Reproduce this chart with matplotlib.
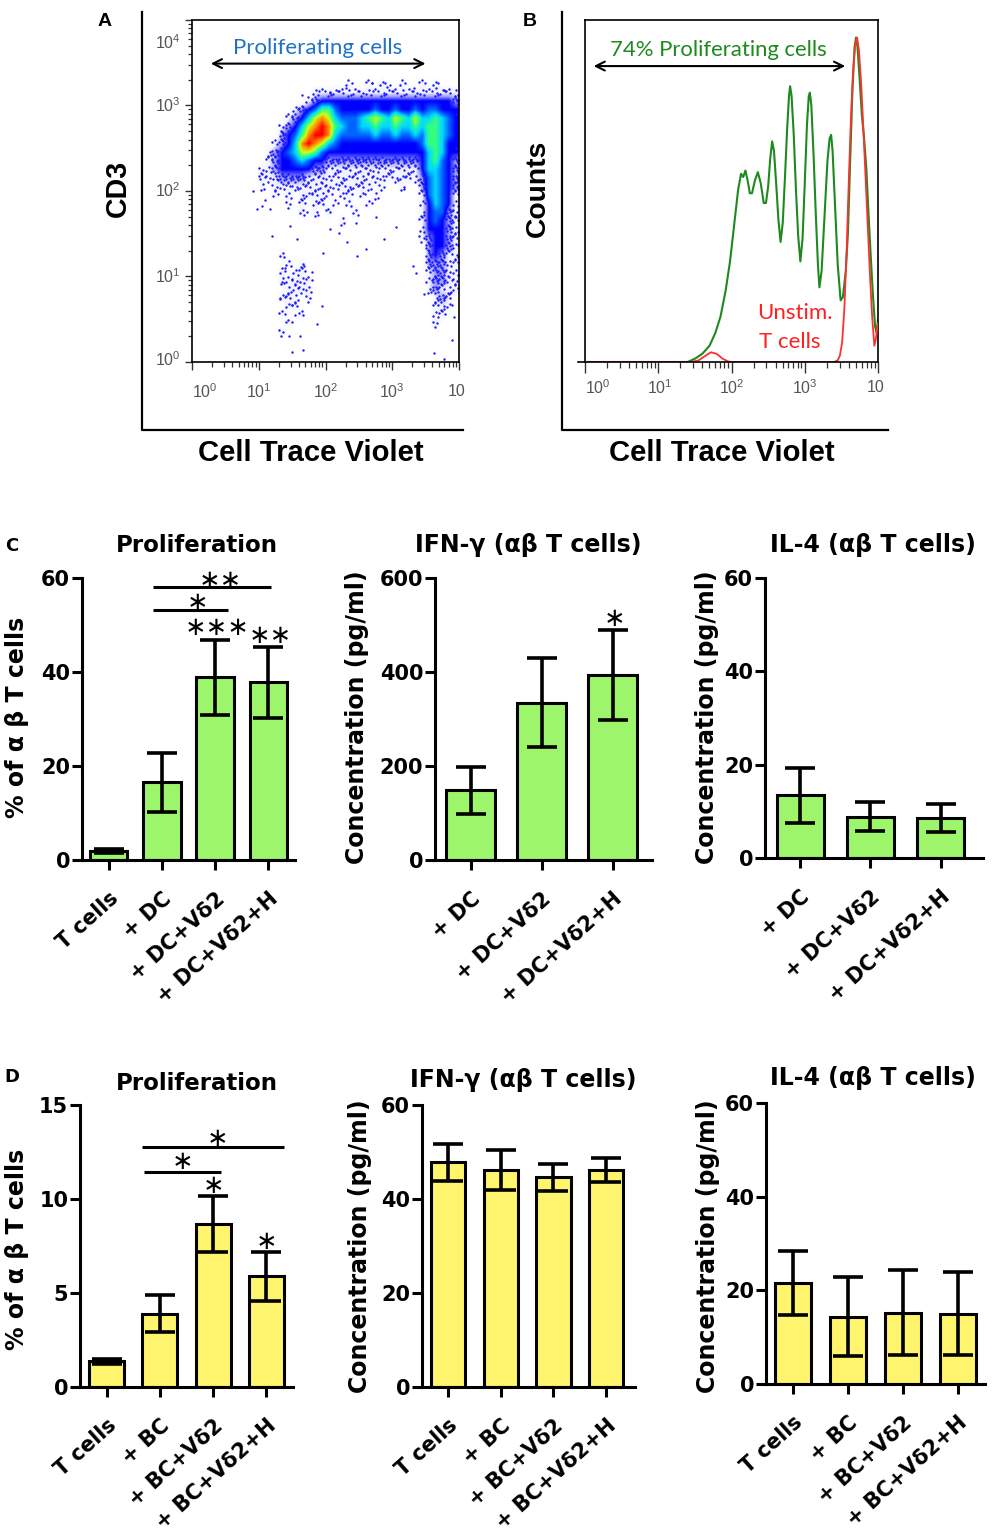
import numpy as np
import matplotlib.pyplot as plt
from matplotlib.colors import LinearSegmentedColormap
from matplotlib.lines import Line2D

plt.rcParams['mathtext.fontset'] = 'custom'
plt.rcParams['mathtext.rm'] = 'Liberation Sans'

# ---------------- data ----------------
# panel A: CD3 vs Cell Trace Violet density (log10 units), rows top (3.4) -> bottom (0.0),
# columns logx 0.0 -> 4.0 in steps of 0.1;  '.' = empty, 1..9 = density level
cd3_density = [
    '..........' '..........' '..........' '..........',
    '..........' '..........' '...1..1.1.' '.1..1.1...',
    '..........' '........11' '1111111111' '1111111111',
    '..........' '.......123' '3333333333' '3333333332',
    '..........' '.....12346' '6433333433' '4334344333',
    '..........' '....123578' '7544456765' '7657556543',
    '..........' '...1235789' '8654455655' '6556566543',
    '..........' '...2346899' '8544444544' '5445466543',
    '..........' '..12358987' '5433333333' '3333466533',
    '..........' '.123457764' '3333333333' '3333356533',
    '..........' '.123345433' '2222222222' '2222356432',
    '..........' '1123333322' '1111111111' '1111355432',
    '..........' '1112222111' '1111111111' '1111245432',
    '..........' '1.11111111' '1111111.1.' '.1..245432',
    '..........' '..1.1.1111' '1.11.1.1..' '....145431',
    '..........' '....1.1.11' '.1.1..1...' '....135431',
    '..........' '......1.1.' '1...1.....' '....134421',
    '..........' '..........' '..1.......' '....134321',
    '..........' '..........' '..........' '....133321',
    '..........' '..........' '..........' '....123321',
    '..........' '..........' '..........' '.....23321',
    '..........' '...1......' '..........' '.....23211',
    '..........' '....1.1...' '..........' '.....22211',
    '..........' '...1.11...' '..........' '.....12211',
    '..........' '...11111..' '..........' '.....12211',
    '..........' '....1111..' '..........' '.....12111',
    '..........' '...111.1..' '..........' '......121.',
    '..........' '....11....' '..........' '......111.',
    '..........' '...1..1...' '..........' '......11..',
    '..........' '....1.....' '..........' '......1...',
    '..........' '...1......' '..........' '..........',
    '..........' '..........' '..........' '..........',
    '..........' '..........' '..........' '..........',
    '..........' '..........' '..........' '..........',
]
# isolated events (log10 CTV, log10 CD3)
cd3_sparse_x = [0.92, 0.97, 1.00, 1.05, 1.20, 1.17, 1.10, 1.35, 1.32, 1.40, 1.45, 1.50,
                1.67, 1.62, 1.87, 1.95, 1.65, 1.57, 1.97, 2.32, 2.47, 2.60, 2.87, 2.20,
                3.31, 3.35, 3.47, 3.62, 3.77, 3.90, 3.92, 3.87, 2.70, 2.92, 2.30, 3.32,
                3.77, 3.65, 2.97, 2.07, 1.47, 1.27, 1.37, 1.32, 1.72, 2.07, 1.47, 1.55,
                1.80, 2.45, 2.75, 3.05, 3.95, 3.96, 3.97, 3.96]
cd3_sparse_y = [2.00, 1.79, 2.18, 1.83, 1.47, 1.79, 1.90, 0.93, 0.75, 1.10, 0.30, 0.12,
                0.14, 0.30, 0.44, 0.65, 3.12, 1.44, 1.28, 1.40, 1.24, 1.32, 1.44, 1.51,
                1.12, 1.04, 0.79, 0.10, 0.04, 0.26, 0.53, 0.81, 3.26, 3.22, 3.20, 3.20,
                3.18, 3.20, 3.24, 3.16, 2.06, 2.14, 2.42, 2.34, 1.75, 1.55, 1.59, 0.55,
                1.05, 1.62, 1.70, 1.58, 2.90, 2.50, 2.10, 1.70]

# panel B: histogram of Cell Trace Violet (log10 units, relative counts)
prolif_x = [0.00, 1.40, 1.50, 1.60, 1.70, 1.78, 1.85, 1.92, 1.98, 2.04, 2.09, 2.13,
            2.16, 2.19, 2.22, 2.25, 2.28, 2.32, 2.36, 2.40, 2.44, 2.47, 2.50, 2.53,
            2.555, 2.58, 2.61, 2.64, 2.67, 2.70, 2.73, 2.76, 2.785, 2.80, 2.82, 2.85,
            2.88, 2.91, 2.94, 2.97, 3.00, 3.03, 3.055, 3.07, 3.09, 3.12, 3.15, 3.18,
            3.20, 3.23, 3.27, 3.31, 3.34, 3.36, 3.38, 3.41, 3.45, 3.49, 3.52, 3.56,
            3.59, 3.62, 3.65, 3.68, 3.70, 3.72, 3.75, 3.78, 3.81, 3.84, 3.87, 3.90,
            3.93, 3.96, 3.98, 4.00]
prolif_y = [0, 0, 1, 2.5, 5, 9, 14, 22, 31, 43, 53, 58,
            57, 59, 56, 52, 52, 56, 58.5, 55, 49, 49, 54, 63,
            68, 65, 55, 44, 37, 43, 57, 72, 82, 85, 82, 70,
            53, 39, 31, 38, 55, 73, 82, 83, 79, 64, 46, 30,
            23, 28, 45, 62, 69, 70, 65, 50, 30, 19, 20, 28,
            40, 62, 83, 97, 100, 97, 87, 76, 69, 60, 46, 33,
            21, 11, 9, 13]
unstim_x = [0.00, 1.45, 1.55, 1.65, 1.72, 1.80, 1.88, 1.95, 2.00, 3.40, 3.45, 3.48,
            3.51, 3.54, 3.57, 3.60, 3.63, 3.66, 3.69, 3.715, 3.74, 3.77, 3.80, 3.83,
            3.86, 3.89, 3.92, 3.95, 3.97, 4.00]
unstim_y = [0, 0, 0.5, 2.0, 3.0, 2.5, 1.0, 0.2, 0, 0, 0.5, 2,
            6, 16, 33, 55, 75, 90, 98, 100, 96, 86, 72, 57,
            42, 27, 14, 5, 7, 12]

# panel C
c_prolif_labels = ['T cells', '+ DC', '+ DC+Vδ2', '+ DC+Vδ2+H']
c_prolif_mean = [1.9, 16.5, 38.9, 37.8]
c_prolif_err = [0.4, 6.3, 8.0, 7.6]
c_cyto_labels = ['+ DC', '+ DC+Vδ2', '+ DC+Vδ2+H']
c_ifng_mean = [148, 335, 393]
c_ifng_err = [50, 95, 96]
c_il4_mean = [13.4, 8.8, 8.6]
c_il4_err = [5.8, 3.1, 3.05]

# panel D
d_labels = ['T cells', '+ BC', '+ BC+Vδ2', '+ BC+Vδ2+H']
d_prolif_mean = [1.36, 3.9, 8.67, 5.88]
d_prolif_err = [0.12, 0.97, 1.47, 1.3]
d_ifng_mean = [47.8, 46.2, 44.6, 46.2]
d_ifng_err = [4.0, 4.2, 2.8, 2.6]
d_il4_mean = [21.5, 14.4, 15.25, 15.0]
d_il4_err = [6.8, 8.5, 9.0, 8.9]

GREEN = '#9cf56b'
YELLOW = '#fff46e'

# ---------------- figure ----------------
W, H = 992, 1537
fig = plt.figure(figsize=(W / 100, H / 100), dpi=100)
renderer = fig.canvas.get_renderer()


def rect(l, t, r, b):
    return [l / W, 1 - b / H, (r - l) / W, (b - t) / H]


def ftext(x, y, s, **kw):
    return fig.text(x / W, 1 - y / H, s, **kw)


def fit(t, length, vertical=False):
    # scale font so the text spans the measured length in pixels
    bb = t.get_window_extent(renderer)
    cur = bb.height if vertical else bb.width
    t.set_fontsize(t.get_fontsize() * length / cur)


def fline(xs, ys, **kw):
    fig.add_artist(Line2D([x / W for x in xs], [1 - y / H for y in ys],
                          transform=fig.transFigure, **kw))


flow_font = 'Lato'


def flow_label(x, y, s, length, rotation=0):
    t = ftext(x, y, s, ha='center', va='center', rotation=rotation, fontsize=22,
              fontweight='bold', family='Liberation Sans')
    fit(t, length, vertical=rotation == 90)
    return t


minor = np.log10(np.arange(2, 10))


def log_ticks(ax, axis, major_len, minor_len):
    majors = np.arange(0, 5)
    minors = np.concatenate([k + minor for k in range(4)])
    kw = dict(direction='out', color='#333333')
    if axis == 'x':
        ax.set_xticks(majors)
        ax.set_xticks(minors, minor=True)
        ax.tick_params(axis='x', which='major', length=major_len, width=1.0, labelbottom=False, **kw)
        ax.tick_params(axis='x', which='minor', length=minor_len, width=0.9, **kw)
    else:
        ax.set_yticks(majors)
        ax.set_yticks(minors, minor=True)
        ax.tick_params(axis='y', which='major', length=major_len, width=1.0, labelleft=False, **kw)
        ax.tick_params(axis='y', which='minor', length=minor_len, width=0.9, **kw)


# ---- panel A ----
fline([142, 142, 463], [12, 430, 430], color='black', lw=1.6)
axA = fig.add_axes(rect(192, 20, 459, 362))
dens = np.array([[0 if ch == '.' else int(ch) for ch in row] for row in cd3_density], float)
flow_cmap = LinearSegmentedColormap.from_list('flow', [
    (0.0, (0, 0, 1, 0)), (1 / 9, (0, 0, 1, 0.05)), (2 / 9, (0, 0, 1, 0.4)),
    (3 / 9, (0, 0, 1, 1)), (4 / 9, (0, 0.4, 1, 1)), (5 / 9, (0, 0.85, 1, 1)),
    (6 / 9, (0.2, 1, 0.5, 1)), (7 / 9, (0.8, 1, 0.1, 1)), (8 / 9, (1, 0.55, 0, 1)),
    (1.0, (1, 0, 0, 1))])
axA.imshow(dens, extent=(0, 4, 0, 3.4), origin='upper', cmap=flow_cmap, vmin=0, vmax=9,
           interpolation='bilinear', aspect='auto', zorder=1)
# low-density cells are shown as individual events
pattern = [(0.13, 0.62), (0.58, 0.21), (0.81, 0.77), (0.36, 0.93),
           (0.69, 0.49), (0.05, 0.28), (0.44, 0.05), (0.92, 0.36)]
ev_x, ev_y = [], []
for r, row in enumerate(dens):
    for c, lev in enumerate(row):
        n = {1: 3, 2: 7}.get(int(lev), 0)
        s0 = (r * 3 + c * 5) % 8
        for i in range(n):
            ox, oy = pattern[(s0 + i) % 8]
            ev_x.append((c + ox) * 0.1)
            ev_y.append(3.4 - (r + oy) * 0.1)
axA.scatter(ev_x, ev_y, s=3, color='#1a1aff', lw=0, zorder=2)
axA.scatter(cd3_sparse_x, cd3_sparse_y, s=3, color='#1a1aff', lw=0, zorder=2)
axA.set_xlim(0, 4)
axA.set_ylim(0, 4)
for s in axA.spines.values():
    s.set_linewidth(1.2)
log_ticks(axA, 'x', 6, 3.5)
log_ticks(axA, 'y', 5, 3)
for xv, lab in zip([0.2, 1.0, 2.0, 3.0, 3.97], ['$10^{0}$', '$10^{1}$', '$10^{2}$', '$10^{3}$', '10']):
    axA.text(xv, -0.35, lab, ha='center', va='center', fontsize=11.5, color='#555555',
             family='Liberation Sans')
for yv, lab in zip([0.03, 1.0, 2.0, 3.0, 3.73], ['$10^{0}$', '$10^{1}$', '$10^{2}$', '$10^{3}$', '$10^{4}$']):
    axA.text(-0.36, yv, lab, ha='center', va='center', fontsize=11.5, color='#555555',
             family='Liberation Sans')
axA.annotate('', xy=(0.24, 3.49), xytext=(3.54, 3.49),
             arrowprops=dict(arrowstyle='<->', color='black', lw=1.5, mutation_scale=16))
t = ftext(318, 48, 'Proliferating cells', ha='center', va='center', fontsize=16,
          color='#2272c3', family=flow_font)
fit(t, 170)
flow_label(118, 188, 'CD3', 57, rotation=90)
flow_label(311, 453, 'Cell Trace Violet', 225)
ftext(105, 21, 'A', ha='center', va='center', fontsize=14, fontweight='bold',
      family='Liberation Sans')

# ---- panel B ----
fline([562, 562, 888], [12, 430, 430], color='black', lw=1.6)
axB = fig.add_axes(rect(585, 20, 878, 362))
axB.plot(prolif_x, prolif_y, color='#1e8a1e', lw=1.5, zorder=2)
axB.plot(unstim_x, unstim_y, color='#ff3030', lw=1.3, zorder=3)
axB.set_xlim(0, 4)
axB.set_ylim(0, 105.4)
axB.set_yticks([])
for s in axB.spines.values():
    s.set_linewidth(1.2)
axB.spines['bottom'].set_visible(False)
axB.plot([-0.1, 4.0], [0, 0], color='black', lw=1.2, clip_on=False, zorder=4)
log_ticks(axB, 'x', 8, 4)
for xv, lab in zip([0.17, 1.02, 2.0, 3.0, 3.97], ['$10^{0}$', '$10^{1}$', '$10^{2}$', '$10^{3}$', '10']):
    axB.text(xv, -8, lab, ha='center', va='center', fontsize=11.5, color='#555555',
             family='Liberation Sans')
axB.annotate('', xy=(0.08, 91.2), xytext=(3.59, 91.2),
             arrowprops=dict(arrowstyle='<->', color='black', lw=1.5, mutation_scale=16))
t = ftext(718, 50, '74% Proliferating cells', ha='center', va='center', fontsize=16,
          color='#1e8a1e', family=flow_font)
fit(t, 218)
ftext(757, 313, 'Unstim.', ha='left', va='center', fontsize=16, color='#ff2020',
      family=flow_font)
ftext(759, 342, 'T cells', ha='left', va='center', fontsize=16, color='#ff2020',
      family=flow_font)
flow_label(538, 188, 'Counts', 97, rotation=90)
flow_label(722, 453, 'Cell Trace Violet', 225)
ftext(530, 21, 'B', ha='center', va='center', fontsize=14, fontweight='bold',
      family='Liberation Sans')


# ---- bar panels ----
def bar_panel(r, labels, means, errs, color, ymax, step, width, right):
    ax = fig.add_axes(r)
    x = np.arange(len(means))
    ax.bar(x, means, width=width, color=color, edgecolor='black', linewidth=2.2, zorder=2)
    ax.errorbar(x, means, yerr=errs, fmt='none', ecolor='black', elinewidth=2.6,
                capsize=10.5, capthick=2.6, zorder=3)
    ax.set_xlim(-0.5, right)
    ax.set_ylim(0, ymax)
    ticks = np.arange(0, ymax + step / 2, step)
    ax.set_yticks(ticks, [str(int(t)) for t in ticks])
    ax.set_xticks(x, labels, rotation=42, ha='right', va='top', rotation_mode='anchor')
    for s in ['top', 'right']:
        ax.spines[s].set_visible(False)
    for s in ['left', 'bottom']:
        ax.spines[s].set_linewidth(2.2)
    ax.tick_params(axis='both', direction='out', length=7.5, width=2.2, labelsize=15)
    ax.tick_params(axis='x', pad=13)
    ax.tick_params(axis='y', pad=1)
    for lab in ax.get_xticklabels() + ax.get_yticklabels():
        lab.set_fontweight('bold')
        lab.set_family('DejaVu Sans')
    ax.patch.set_alpha(0)
    return ax


def star(ax, x, y, s):
    ax.text(x, y, s, ha='center', va='center', fontsize=18.5, family='DejaVu Sans',
            zorder=5, clip_on=False)


def bracket(ax, x1, x2, y):
    ax.plot([x1, x2], [y, y], color='black', lw=2.2, solid_capstyle='butt', clip_on=False)


bold = dict(fontweight='bold', family='DejaVu Sans', ha='center', va='center')

# C
ax = bar_panel(rect(82, 578, 295, 860), c_prolif_labels, c_prolif_mean, c_prolif_err,
               GREEN, 60, 20, 0.7, 3.5)
bracket(ax, 0.84, 3.04, 58.0)
star(ax, 2.1, 59.3, '∗∗')
bracket(ax, 0.84, 2.25, 53.1)
star(ax, 1.67, 54.6, '∗')
star(ax, 2.03, 49.4, '∗∗∗')
star(ax, 3.04, 47.6, '∗∗')
ax = bar_panel(rect(435, 578, 652, 860), c_cyto_labels, c_ifng_mean, c_ifng_err,
               GREEN, 600, 200, 0.69, 2.55)
star(ax, 2.03, 513, '∗')
bar_panel(rect(765, 578, 983, 858), c_cyto_labels, c_il4_mean, c_il4_err,
          GREEN, 60, 20, 0.67, 2.6)

ftext(197, 545, 'Proliferation', fontsize=16.5, **bold)
ftext(528, 545, 'IFN-γ (αβ T cells)', fontsize=17, **bold)
ftext(873, 545, 'IL-4 (αβ T cells)', fontsize=17, **bold)
ftext(17, 717, '% of α β T cells', rotation=90, fontsize=17, **bold)
ftext(357, 717, 'Concentration (pg/ml)', rotation=90, fontsize=17, **bold)
ftext(707, 717, 'Concentration (pg/ml)', rotation=90, fontsize=17, **bold)
ftext(12, 546, 'C', fontsize=13, **bold)

# D
ax = bar_panel(rect(80, 1105, 293, 1387), d_labels, d_prolif_mean, d_prolif_err,
               YELLOW, 15, 5, 0.66, 3.5)
bracket(ax, 0.67, 3.33, 12.74)
star(ax, 2.08, 13.2, '∗')
bracket(ax, 0.70, 2.15, 11.45)
star(ax, 1.43, 11.98, '∗')
star(ax, 2.0, 10.7, '∗')
star(ax, 3.0, 7.73, '∗')
bar_panel(rect(422, 1105, 635, 1387), d_labels, d_ifng_mean, d_ifng_err,
          YELLOW, 60, 20, 0.65, 3.55)
bar_panel(rect(766, 1103, 985, 1384), d_labels, d_il4_mean, d_il4_err,
          YELLOW, 60, 20, 0.66, 3.5)

ftext(197, 1083, 'Proliferation', fontsize=16.5, **bold)
ftext(523, 1080, 'IFN-γ (αβ T cells)', fontsize=17, **bold)
ftext(873, 1078, 'IL-4 (αβ T cells)', fontsize=17, **bold)
ftext(17, 1249, '% of α β T cells', rotation=90, fontsize=17, **bold)
ftext(360, 1246, 'Concentration (pg/ml)', rotation=90, fontsize=17, **bold)
ftext(708, 1246, 'Concentration (pg/ml)', rotation=90, fontsize=17, **bold)
ftext(12, 1077, 'D', fontsize=13, **bold)

fig.savefig('out.png', dpi=100, facecolor='white')
